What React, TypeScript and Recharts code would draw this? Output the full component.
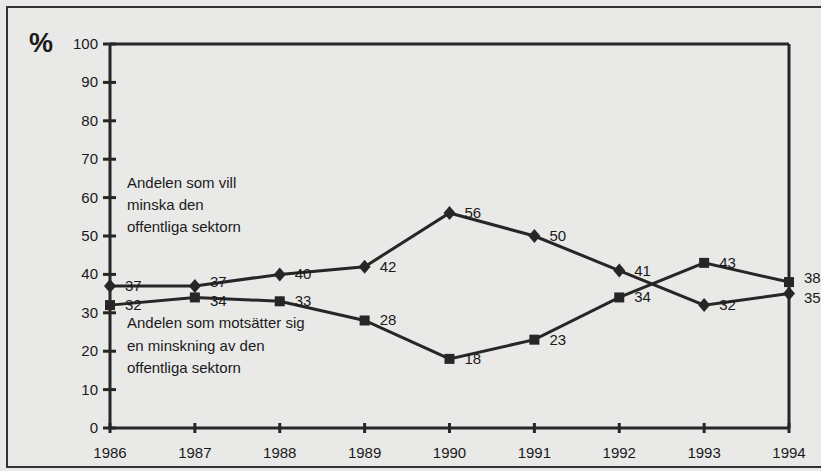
import { LineChart, Line, XAxis, YAxis, ReferenceLine, LabelList } from 'recharts'

const years = [1986, 1987, 1988, 1989, 1990, 1991, 1992, 1993, 1994]
// Andelen som vill minska den offentliga sektorn (diamonds)
const minska = [37, 37, 40, 42, 56, 50, 41, 32, 35]
// Andelen som motsätter sig en minskning (squares)
const motsatter = [32, 34, 33, 28, 18, 23, 34, 43, 38]
const yTicks = [0, 10, 20, 30, 40, 50, 60, 70, 80, 90, 100]

const data = years.map((y, i) => ({ year: y, minska: minska[i], motsatter: motsatter[i] }))

const INK = '#262626'
const TXT = '#1a1a1a'
const FONT = '"Liberation Sans", Arial, sans-serif'

const Diamond = (p: any) => {
  const { cx, cy } = p
  if (cx == null || cy == null) return null
  return <path d={`M${cx},${cy - 7} L${cx + 6},${cy} L${cx},${cy + 7} L${cx - 6},${cy} Z`} fill={INK} />
}

const Square = (p: any) => {
  const { cx, cy } = p
  if (cx == null || cy == null) return null
  return <rect x={cx - 5} y={cy - 5} width={10} height={10} fill={INK} />
}

const YTick = (p: any) => {
  const { x, y, payload } = p
  return (
    <g>
      <line x1={x - 7} x2={x + 6} y1={y} y2={y} stroke={INK} strokeWidth={3} />
      <text x={x - 12} y={y + 5} textAnchor="end" fontSize={15} fontFamily={FONT} fill={TXT}>
        {payload.value}
      </text>
    </g>
  )
}

const XTick = (p: any) => {
  const { x, y, payload } = p
  return (
    <g>
      <line x1={x} x2={x} y1={y - 5} y2={y + 5} stroke={INK} strokeWidth={3} />
      <text x={x} y={y + 30} textAnchor="middle" fontSize={15} fontFamily={FONT} fill={TXT}>
        {payload.value}
      </text>
    </g>
  )
}

// where the two series sit close together the labels are pushed apart a little
const labelShift = (nudge: Record<number, number>) => (p: any) => {
  const { x, y, value, index } = p
  const dy = nudge[index] ?? 0
  return (
    <text x={x + 15} y={y + 5 + dy} fontSize={15} fontFamily={FONT} fill={TXT}>
      {value}
    </text>
  )
}

export default function App() {
  return (
    <div style={{ position: 'absolute', left: 0, top: 0, width: 821, height: 471, background: '#e9e9e8', overflow: 'hidden', fontFamily: FONT }}>
      <div style={{ position: 'absolute', left: 6, top: 6, width: 840, height: 462, border: '2px solid #333', boxSizing: 'border-box' }} />
      <div style={{ position: 'absolute', left: 29, top: 28, fontSize: 27, fontWeight: 'bold', color: TXT }}>%</div>
      <div style={{ position: 'absolute', left: 127, top: 172, fontSize: 15, lineHeight: '22px', color: TXT }}>
        Andelen som vill<br />minska den<br />offentliga sektorn
      </div>
      <div style={{ position: 'absolute', left: 127, top: 312, fontSize: 15, lineHeight: '22.5px', color: TXT }}>
        Andelen som motsätter sig<br />en minskning av den<br />offentliga sektorn
      </div>
      <LineChart width={821} height={471} data={data} margin={{ top: 44, right: 32, bottom: 0, left: 0 }} style={{ position: 'absolute', left: 0, top: 0 }}>
        <XAxis
          dataKey="year"
          type="number"
          domain={[1986, 1994]}
          ticks={years}
          height={43}
          tickSize={0}
          tickMargin={0}
          tickLine={false}
          axisLine={{ stroke: INK, strokeWidth: 3 }}
          tick={<XTick />}
          interval={0}
        />
        <YAxis
          domain={[0, 100]}
          ticks={yTicks}
          width={110}
          tickSize={0}
          tickMargin={0}
          tickLine={false}
          axisLine={{ stroke: INK, strokeWidth: 3 }}
          tick={<YTick />}
          interval={0}
        />
        <ReferenceLine y={100} stroke={INK} strokeWidth={3} />
        <ReferenceLine x={1994} stroke={INK} strokeWidth={3} />
        <Line dataKey="minska" stroke={INK} strokeWidth={3} dot={<Diamond />} isAnimationActive={false}>
          <LabelList dataKey="minska" content={labelShift({ 1: -4, 8: 4 })} />
        </Line>
        <Line dataKey="motsatter" stroke={INK} strokeWidth={3} dot={<Square />} isAnimationActive={false}>
          <LabelList dataKey="motsatter" content={labelShift({ 1: 4, 8: -4 })} />
        </Line>
      </LineChart>
    </div>
  )
}
